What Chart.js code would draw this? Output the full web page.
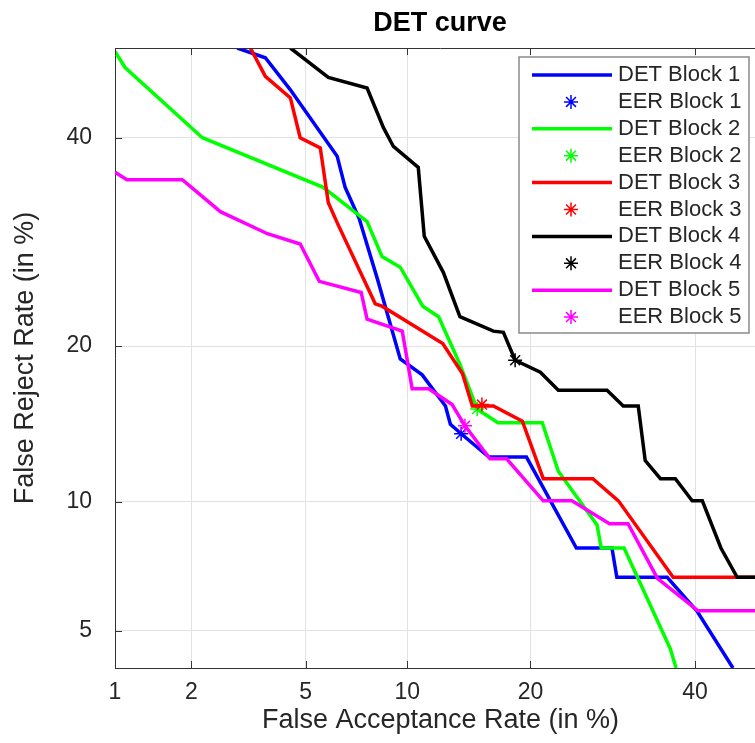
<!DOCTYPE html>
<html>
<head>
<meta charset="utf-8">
<script src="https://cdn.jsdelivr.net/npm/chart.js@4.4.1/dist/chart.umd.min.js"></script>
<style>
html, body { margin: 0; padding: 0; background: #fff; overflow: hidden; }
#wrap { position: relative; width: 800px; height: 743px; }
#title { position: absolute; top: 6px; left: 440px; transform: translateX(-50%);
  font: bold 27px 'Liberation Sans', Arial, Helvetica, sans-serif; color: #000;
  line-height: 32px; white-space: nowrap; }
</style>
</head>
<body>
<div id="wrap">
  <canvas id="myChart" width="800" height="743"></canvas>
  <div id="title">DET curve</div>
</div>
<script>
// values in %
const blockNames = ['Block 1', 'Block 2', 'Block 3', 'Block 4', 'Block 5'];

const fa1 = [2.94, 3.68, 4.46, 6.27, 6.63, 7.3, 8.25, 9.56, 10.96, 12.6, 12.97, 13.8, 16.1, 19.6, 24.9, 29.1, 29.7, 36.2, 40.3, 45.3];
const fr1 = [50, 48.9, 45.3, 38.0, 34.7, 31.5, 25.7, 19.0, 17.8, 15.6, 14.4, 13.8, 12.4, 12.4, 7.9, 7.9, 6.75, 6.75, 5.58, 4.0];

const fa2 = [1.0, 1.1, 2.2, 5.68, 7.7, 8.5, 9.56, 11.0, 12.1, 13.7, 15.1, 16.9, 21.2, 22.9, 27.3, 27.8, 30.6, 36.6, 37.4];
const fr2 = [49.6, 47.8, 40.0, 34.7, 31.2, 27.8, 26.8, 23.3, 22.4, 18.6, 15.4, 14.5, 14.5, 11.6, 8.9, 7.9, 7.9, 4.5, 4.0];

const fa3 = [3.27, 3.68, 4.46, 4.8, 5.56, 5.89, 6.27, 8.13, 8.5, 12.4, 13.9, 14.7, 16.5, 19.2, 21.3, 26.8, 29.9, 37.0, 50];
const fr3 = [50, 46.8, 44.4, 40.0, 38.9, 33.1, 31.1, 23.5, 23.3, 20.2, 17.9, 15.6, 15.6, 14.6, 11.2, 11.2, 10.05, 6.75, 6.75];

const fa4 = [4.46, 5.89, 7.7, 8.58, 9.15, 10.7, 11.1, 12.45, 13.7, 16.5, 17.4, 18.5, 21.0, 22.9, 28.5, 30.5, 32.4, 33.3, 35.3, 37.3, 39.6, 41.0, 43.6, 45.9, 50];
const fr4 = [50, 46.7, 45.5, 41.1, 39.05, 36.8, 29.75, 26.3, 22.4, 21.2, 21.1, 18.9, 18.0, 16.7, 16.7, 15.6, 15.6, 12.2, 11.2, 11.2, 10.05, 10.05, 7.9, 6.75, 6.75];

const fa5 = [1.0, 1.12, 1.85, 2.56, 3.74, 4.8, 5.52, 7.4, 7.7, 9.68, 9.98, 10.3, 11.4, 13.1, 14.1, 16.2, 17.7, 21.3, 24.4, 28.8, 31.1, 34.9, 40.4, 50];
const fr5 = [36.3, 35.5, 35.5, 32.2, 30.0, 29.0, 25.5, 24.5, 22.2, 21.2, 19.0, 16.8, 16.8, 15.7, 14.3, 12.3, 12.3, 10.05, 10.05, 8.96, 8.96, 6.71, 5.6, 5.6];

// equal error rate points
const eerFa = [13.8, 15.1, 15.5, 18.5, 14.1];
const eerFr = [13.8, 15.4, 15.7, 18.9, 14.3];

const xTicks = [1, 2, 5, 10, 20, 40];
const yTicks = [5, 10, 20, 40];
const xRange = [1, 50];
const yRange = [4, 50];

const colors = ['#0000ff', '#00ff00', '#ff0000', '#000000', '#ff00ff'];
const fontFam = "'Liberation Sans', Arial, Helvetica, sans-serif";
const textCol = '#262626';

// inverse normal cdf (Acklam), DET axes are on normal deviate scale
function probit(p){
    const a = [-3.969683028665376e+01, 2.209460984245205e+02, -2.759285104469687e+02, 1.383577518672690e+02, -3.066479806614716e+01, 2.506628277459239e+00];
    const b = [-5.447609879822406e+01, 1.615858368580409e+02, -1.556989798598866e+02, 6.680131188771972e+01, -1.328068155288572e+01];
    const c = [-7.784894002430293e-03, -3.223964580411365e-01, -2.400758277161838e+00, -2.549732539343734e+00, 4.374664141464968e+00, 2.938163982698783e+00];
    const d = [7.784695709041462e-03, 3.224671290700398e-01, 2.445134137142996e+00, 3.754408661907416e+00];
    const plow = 0.02425;
    let q, r;
    if(p < plow){
        q = Math.sqrt(-2 * Math.log(p));
        return (((((c[0]*q+c[1])*q+c[2])*q+c[3])*q+c[4])*q+c[5]) / ((((d[0]*q+d[1])*q+d[2])*q+d[3])*q+1);
    }
    if(p <= 1 - plow){
        q = p - 0.5; r = q * q;
        return (((((a[0]*r+a[1])*r+a[2])*r+a[3])*r+a[4])*r+a[5])*q / (((((b[0]*r+b[1])*r+b[2])*r+b[3])*r+b[4])*r+1);
    }
    q = Math.sqrt(-2 * Math.log(1 - p));
    return -(((((c[0]*q+c[1])*q+c[2])*q+c[3])*q+c[4])*q+c[5]) / ((((d[0]*q+d[1])*q+d[2])*q+d[3])*q+1);
}
const pz = v => probit(v / 100);

const faData = [fa1, fa2, fa3, fa4, fa5];
const frData = [fr1, fr2, fr3, fr4, fr5];
let datasets = [];
blockNames.forEach((name, i) => {
    datasets.push({
        label: 'DET ' + name,
        data: faData[i].map((v, j) => ({x: pz(v), y: pz(frData[i][j])})),
        showLine: true,
        borderColor: colors[i],
        backgroundColor: colors[i],
        borderWidth: 3.5,
        pointRadius: 0,
        tension: 0,
        order: 20 - 2 * i
    });
    datasets.push({
        label: 'EER ' + name,
        data: [{x: pz(eerFa[i]), y: pz(eerFr[i])}],
        showLine: false,
        pointStyle: 'star',
        pointRadius: 7,
        borderColor: colors[i],
        backgroundColor: colors[i],
        borderWidth: 1.5,
        order: 19 - 2 * i
    });
});

// box line on top + inward tick marks like matlab
const boxTicks = {
    id: 'boxTicks',
    afterDatasetsDraw(chart){
        const {ctx, chartArea: a, scales: {x, y}} = chart;
        ctx.save();
        ctx.strokeStyle = '#333';
        ctx.lineWidth = 1;
        ctx.beginPath();
        ctx.moveTo(a.left, a.top + 0.5); ctx.lineTo(a.right, a.top + 0.5);
        x.ticks.forEach(t => {
            const px = Math.round(x.getPixelForValue(t.value)) + 0.5;
            ctx.moveTo(px, a.bottom); ctx.lineTo(px, a.bottom - 7);
            ctx.moveTo(px, a.top); ctx.lineTo(px, a.top + 7);
        });
        y.ticks.forEach(t => {
            const py = Math.round(y.getPixelForValue(t.value)) + 0.5;
            ctx.moveTo(a.left, py); ctx.lineTo(a.left + 7, py);
            ctx.moveTo(a.right, py); ctx.lineTo(a.right - 7, py);
        });
        ctx.stroke();
        ctx.restore();
    }
};

// legend box inside the axes, top right
const legendBox = {
    id: 'legendBox',
    afterDraw(chart){
        const ctx = chart.ctx;
        const x0 = 519, y0 = 57, w = 230, h = 276;
        ctx.save();
        ctx.fillStyle = '#fff';
        ctx.fillRect(x0, y0, w, h);
        ctx.strokeStyle = '#8a8a8a';
        ctx.lineWidth = 1.5;
        ctx.strokeRect(x0, y0, w, h);
        ctx.font = '22px ' + fontFam;
        ctx.textBaseline = 'middle';
        ctx.textAlign = 'left';
        chart.data.datasets.forEach((ds, i) => {
            const yy = 75 + i * 26.9;
            ctx.strokeStyle = ds.borderColor;
            ctx.fillStyle = ds.borderColor;
            if(ds.showLine){
                ctx.lineWidth = 3.5;
                ctx.beginPath();
                ctx.moveTo(532, yy); ctx.lineTo(612, yy);
                ctx.stroke();
            } else {
                ctx.lineWidth = 1.5;
                Chart.helpers.drawPoint(ctx, {pointStyle: 'star', radius: 7, borderWidth: 1.5, rotation: 0}, 571, yy);
            }
            ctx.fillStyle = textCol;
            ctx.fillText(ds.label, 618, yy);
        });
        ctx.restore();
    }
};

const ctx = document.getElementById('myChart');
let chart = new Chart(ctx, {
    type: 'scatter',
    data: { datasets: datasets },
    plugins: [boxTicks, legendBox],
    options: {
        responsive: false,
        animation: false,
        events: [],
        layout: { padding: { top: 48, right: 34, left: 0, bottom: 0 } },
        plugins: {
            legend: { display: false },
            tooltip: { enabled: false },
            title: { display: false }
        },
        scales: {
            x: {
                type: 'linear',
                min: pz(xRange[0]),
                max: pz(xRange[1]),
                afterBuildTicks: s => { s.ticks = xTicks.map(v => ({value: pz(v)})); },
                afterFit: s => { s.height = 75; },
                ticks: {
                    callback: (v, i) => xTicks[i],
                    autoSkip: false,
                    maxRotation: 0,
                    padding: 11,
                    color: textCol,
                    font: { size: 23, family: fontFam }
                },
                grid: { color: '#e2e2e2', drawTicks: false, lineWidth: 1 },
                border: { display: true, color: '#333', width: 1 },
                title: {
                    display: true,
                    text: 'False Acceptance Rate (in %)',
                    color: textCol,
                    font: { size: 27, family: fontFam, lineHeight: 1 },
                    padding: { top: 0, bottom: 9 }
                }
            },
            y: {
                type: 'linear',
                min: pz(yRange[0]),
                max: pz(yRange[1]),
                afterBuildTicks: s => { s.ticks = yTicks.map(v => ({value: pz(v)})); },
                afterFit: s => { s.width = 115; },
                ticks: {
                    callback: (v, i) => yTicks[i],
                    autoSkip: false,
                    padding: 23,
                    color: textCol,
                    font: { size: 23, family: fontFam }
                },
                grid: { color: '#e2e2e2', drawTicks: false, lineWidth: 1 },
                border: { display: true, color: '#333', width: 1 },
                title: {
                    display: true,
                    text: 'False Reject Rate (in %)',
                    color: textCol,
                    font: { size: 27, family: fontFam, lineHeight: 1 },
                    padding: { top: 12, bottom: 0 }
                }
            }
        }
    }
});
</script>
</body>
</html>
